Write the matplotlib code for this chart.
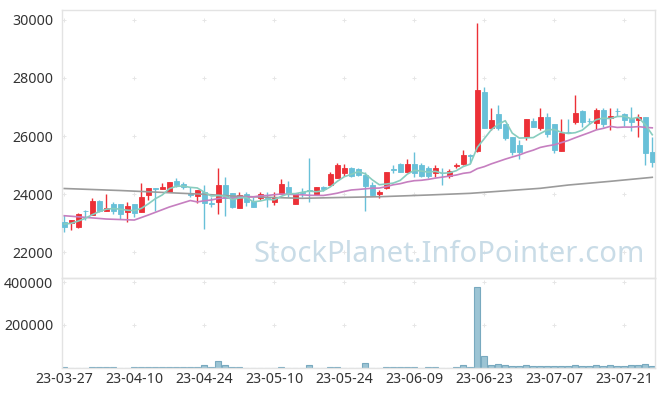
import matplotlib
matplotlib.use('Agg')
import matplotlib.pyplot as plt
import numpy as np
import pandas as pd

# ---------------- data ----------------
opens = [23045, 23010, 22850, 23420, 23276, 23759, 23425, 23655, 23655, 23390,
         23655, 23390, 23976, 24200, 24172, 24080, 24448, 24345, 24045, 23941,
         24080, 23700, 23735, 24310, 24023, 23528, 24000, 23759, 23874, 23880,
         23735, 24000, 24230, 23645, 24080, 24138, 23966, 24230, 24310, 24562,
         24734, 24885, 24850, 24655, 24310, 24000, 24196, 24850, 25035, 24759,
         25035, 25000, 24907, 24734, 24730, 24631, 24980, 25024, 25340, 25493,
         27507, 26286, 26748, 26414, 25955, 25690, 25983, 26517, 26286, 26644,
         26414, 25493, 26140, 26494, 26862, 26530, 26437, 26897, 26632, 26860,
         26759, 26586, 26552, 26666, 25438]
highs = [23276, 23120, 23355, 23440, 23873, 23793, 23990, 23710, 23665, 23724,
         23665, 24369, 24220, 24210, 24369, 24420, 24541, 24403, 24230, 24150,
         24310, 23907, 24886, 24575, 24030, 24057, 24057, 23907, 24080, 24080,
         24080, 24517, 24448, 24030, 24218, 25231, 24240, 24280, 24750, 25080,
         25035, 24920, 24897, 24748, 24400, 24138, 24760, 25000, 25060, 25196,
         25438, 25080, 24966, 25000, 24886, 24850, 25080, 25517, 25369, 29886,
         27700, 26955, 27069, 26420, 25960, 25862, 26590, 26632, 26955, 26782,
         26420, 26575, 26575, 27414, 26897, 26610, 26976, 26976, 26955, 26976,
         26782, 26990, 26759, 26670, 25977]
lows = [22700, 22759, 22840, 23100, 23270, 23380, 23420, 23310, 23138, 23045,
        23218, 23380, 23793, 23400, 24160, 24060, 24252, 24172, 23907, 23679,
        22783, 23562, 23310, 23252, 23507, 23520, 23600, 23541, 23793, 23562,
        23620, 23990, 23907, 23640, 23907, 23735, 23960, 24114, 24290, 24550,
        24621, 24600, 24620, 23414, 23931, 23851, 24190, 24713, 24759, 24750,
        24597, 24580, 24540, 24600, 24310, 24550, 24907, 25000, 25059, 25450,
        26280, 26207, 26207, 25862, 25345, 25207, 25862, 26310, 26207, 25977,
        25403, 25480, 26110, 26403, 26322, 26403, 26230, 26300, 26207, 26690,
        26345, 26183, 25955, 25000, 24920]
closes = [22870, 23103, 23310, 23400, 23759, 23403, 23517, 23414, 23300, 23575,
          23334, 23897, 24196, 24180, 24241, 24403, 24310, 24230, 23966, 24138,
          23679, 23645, 24310, 23850, 23541, 23966, 23735, 23562, 24000, 23817,
          23886, 24345, 24000, 24023, 24045, 24092, 24230, 24172, 24690, 25000,
          24897, 24630, 24666, 24287, 23966, 24057, 24748, 24828, 24759, 25035,
          24713, 24631, 24631, 24897, 24713, 24782, 25000, 25345, 25321, 27586,
          26286, 26541, 26286, 25941, 25438, 25438, 26586, 26322, 26644, 26057,
          25517, 26092, 26126, 26782, 26494, 26517, 26897, 26403, 26690, 26851,
          26552, 26483, 26644, 25424, 25114]
volumes = [3000, 0, 0, 0, 3000, 3000, 3000, 3000, 0, 0,
           3000, 3000, 3000, 3000, 3000, 3000, 3000, 3000, 3000, 3000,
           10000, 4000, 32000, 12000, 3000, 3000, 0, 0, 0, 0,
           0, 3000, 0, 0, 0, 12000, 0, 0, 3000, 3000,
           0, 0, 0, 20600, 0, 0, 3000, 3000, 3000, 3000,
           3000, 0, 3000, 3000, 0, 0, 3000, 12600, 4000, 379000,
           53000, 12600, 17300, 12600, 8000, 8000, 12600, 8000, 8000, 4700,
           4700, 8000, 4700, 14000, 4700, 4700, 9400, 4700, 9400, 4700,
           4700, 14000, 9400, 18700, 4700]
tick_labels = ['23-03-27', '23-04-10', '23-04-24', '23-05-10', '23-05-24',
               '23-06-09', '23-06-23', '23-07-07', '23-07-21']
price_ticks = [22000, 24000, 26000, 28000, 30000]
volume_ticks = [200000, 400000]

# moving-average values before enough history is visible
ma5_head = [22965, 22990, 23069, 23162]
ma20_head_idx = [0, 3, 6, 10, 12, 15, 18]
ma20_head = [23252, 23196, 23138, 23103, 23276, 23552, 23776]
# long moving average (grey line)
ma120_idx = [0, 8, 15, 20, 24, 30, 34, 39, 45, 52, 58, 68, 72, 78, 84]
ma120 = [24190, 24121, 24045, 23990, 23931, 23879, 23852, 23879, 23907,
         23966, 24024, 24197, 24310, 24438, 24576]

# ---------------- styling ----------------
RED = '#ec3037'
BLUE = '#68c0d8'
GREEN = '#88cdbf'
PINK = '#c67fc0'
GREY = '#9b9b9b'
FRAME = '#e3e3e3'
TXT = '#333333'
plt.rcParams['font.family'] = ['Noto Sans', 'DejaVu Sans']

n = len(closes)
x = np.arange(n)
o = np.array(opens); h = np.array(highs); l = np.array(lows); c = np.array(closes)
up = c >= o
cols = np.where(up, RED, BLUE)

fig = plt.figure(figsize=(6.65, 3.96), dpi=100)
L, R = 61.5 / 665, 655 / 665
ax = fig.add_axes([L, 1 - 278 / 396, R - L, (278 - 10) / 396])
axv = fig.add_axes([L, 1 - 367.5 / 396, R - L, (367.5 - 278) / 396])

xlim = (-0.4, 84.39)

# watermark (behind everything)
fig.text(449 / 665, 1 - 255 / 396, 'StockPlanet.InfoPointer.com',
         fontsize=21, color='#c9dce7', ha='center', va='center', zorder=0)

# candles
ax.vlines(x, l, h, colors=cols, linewidth=1.0, zorder=2)
body_bottom = np.minimum(o, c)
body_h = np.maximum(np.abs(c - o), 15)
ax.bar(x, body_h, bottom=body_bottom, width=0.72, color=cols, edgecolor=cols,
       linewidth=0.6, zorder=3)

# moving averages
cs = pd.Series(closes)
ma5 = cs.rolling(5).mean().to_numpy()
ma5[:4] = ma5_head
ma20 = cs.rolling(20).mean().to_numpy()
ma20_x = np.concatenate([ma20_head_idx, x[19:]])
ma20_y = np.concatenate([ma20_head, ma20[19:]])
ax.plot(ma120_idx, ma120, color=GREY, linewidth=1.2, zorder=4)
ax.plot(ma20_x, ma20_y, color=PINK, linewidth=1.2, zorder=4)
ax.plot(x, ma5, color=GREEN, linewidth=1.2, zorder=4)

ax.set_xlim(*xlim)
ax.set_ylim(21105, 30344)
ax.set_yticks(price_ticks)
ax.set_xticks([])

# grid crosses
tx = np.arange(0, n, 10)
gx, gy = np.meshgrid(tx, price_ticks)
ax.scatter(gx.ravel(), gy.ravel(), marker='+', s=9, color='#e6e6e6', linewidths=0.7, zorder=1)

# volume
axv.bar(x, volumes, width=0.9, color='#9cc4d4', edgecolor='#78a9bf', linewidth=0.8, zorder=2)
axv.set_xlim(*xlim)
axv.set_ylim(0, 420000)
axv.set_yticks(volume_ticks)
axv.set_xticks(tx)
axv.set_xticklabels(tick_labels)
gx2, gy2 = np.meshgrid(tx, volume_ticks)
axv.scatter(gx2.ravel(), gy2.ravel(), marker='+', s=9, color='#e6e6e6', linewidths=0.7, zorder=1)

for a in (ax, axv):
    a.patch.set_alpha(0)
    for sp in a.spines.values():
        sp.set_color(FRAME)
        sp.set_linewidth(1.0)
    a.tick_params(length=0, labelsize=10.2, colors=TXT, pad=6)
axv.tick_params(axis='x', pad=3)

fig.savefig('out.png', dpi=100, facecolor='white')
